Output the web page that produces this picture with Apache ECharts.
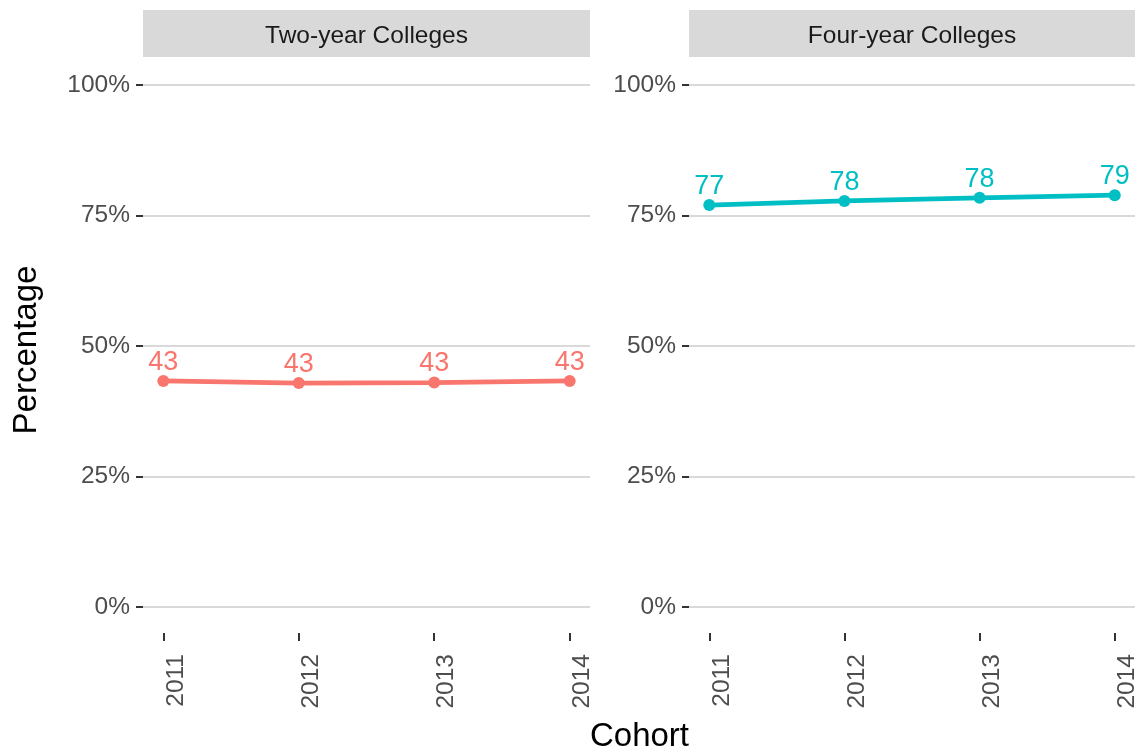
<!DOCTYPE html>
<html>
<head>
<meta charset="utf-8">
<script src="https://cdn.jsdelivr.net/npm/echarts@6/dist/echarts.min.js"></script>
<style>html,body{margin:0;padding:0;background:#fff}#c{width:1140px;height:754px}</style>
</head>
<body>
<div id="c"></div>
<script>
var years = [2011, 2012, 2013, 2014];
var panelTitles = ["Two-year Colleges", "Four-year Colleges"];
var twoYear = [43.3, 42.9, 43.0, 43.3];
var fourYear = [77.0, 77.8, 78.4, 78.9];
var yTicks = [0, 25, 50, 75, 100];
var colors = ["#F8766D", "#00BFC4"];

var FONT = "'Liberation Sans', Arial, Helvetica, sans-serif";
var chart = echarts.init(document.getElementById('c'), null, {renderer: 'canvas'});

function pairs(vals){ return years.map(function(y,i){ return [y, vals[i]]; }); }

var panels = [[143, 590], [689, 1135]];
var grids = [];
// frame grids (0,1): y axis 0..100 with gridlines; data grids (2,3): full panel with y -5..105
panels.forEach(function(r){ grids.push({left: r[0], right: 1140 - r[1], top: 85, bottom: 754 - 607}); });
panels.forEach(function(r){ grids.push({left: r[0], right: 1140 - r[1], top: 59, bottom: 754 - 633}); });

var xAxes = [], yAxes = [];
[0, 1].forEach(function(i){
  xAxes.push({type: 'value', gridIndex: i, min: 2010.85, max: 2014.15, show: false});
  yAxes.push({
    type: 'value', gridIndex: i, min: 0, max: 100, interval: 25,
    axisLine: {show: false},
    axisTick: {show: true, length: 7, lineStyle: {color: '#333333', width: 2}},
    axisLabel: {margin: 13, fontSize: 24.5, color: '#4d4d4d', fontFamily: FONT,
      formatter: function(v){ return v + '%'; }},
    splitLine: {show: true, lineStyle: {color: '#d9d9d9', width: 2}}
  });
});
[0, 1].forEach(function(i){
  xAxes.push({
    type: 'value', gridIndex: 2 + i, min: 2010.85, max: 2014.15,
    axisLine: {show: false, onZero: false},
    axisTick: {show: true, length: 8, customValues: years, lineStyle: {color: '#333333', width: 2}},
    axisLabel: {customValues: years, rotate: 90, margin: 21, fontSize: 24.5, color: '#4d4d4d', fontFamily: FONT,
      verticalAlign: 'top', formatter: function(v){ return String(v); }},
    splitLine: {show: false}
  });
  yAxes.push({type: 'value', gridIndex: 2 + i, min: -5, max: 105, show: false, splitLine: {show: false}});
});

function seriesFor(i, vals){
  return {
    type: 'line', xAxisIndex: 2 + i, yAxisIndex: 2 + i, data: pairs(vals),
    symbol: 'circle', symbolSize: 12, showSymbol: true,
    lineStyle: {color: colors[i], width: 4.8},
    itemStyle: {color: colors[i]},
    label: {show: true, position: 'top', distance: -1, fontSize: 27, color: colors[i], fontFamily: FONT,
      formatter: function(p){ return String(Math.round(p.value[1])); }},
    emphasis: {disabled: true},
    animation: false, clip: false
  };
}

var els = [];
panels.forEach(function(r, i){
  els.push({type: 'rect', shape: {x: r[0], y: 10, width: r[1] - r[0], height: 47}, style: {fill: '#d9d9d9'}, z: 0});
  els.push({type: 'text', x: (r[0] + r[1]) / 2, y: 36,
    style: {text: panelTitles[i], fontSize: 24.5, fill: '#1a1a1a', fontFamily: FONT, align: 'center', verticalAlign: 'middle'}, z: 1});
});
els.push({type: 'text', x: 639.5, y: 737,
  style: {text: 'Cohort', fontSize: 33, fill: '#000000', fontFamily: FONT, align: 'center', verticalAlign: 'middle'}});
els.push({type: 'text', x: 27, y: 350, rotation: Math.PI / 2,
  style: {text: 'Percentage', fontSize: 33, fill: '#000000', fontFamily: FONT, align: 'center', verticalAlign: 'middle'}});

chart.setOption({
  animation: false,
  backgroundColor: '#ffffff',
  grid: grids,
  xAxis: xAxes,
  yAxis: yAxes,
  series: [seriesFor(0, twoYear), seriesFor(1, fourYear)],
  graphic: els
});
</script>
</body>
</html>
